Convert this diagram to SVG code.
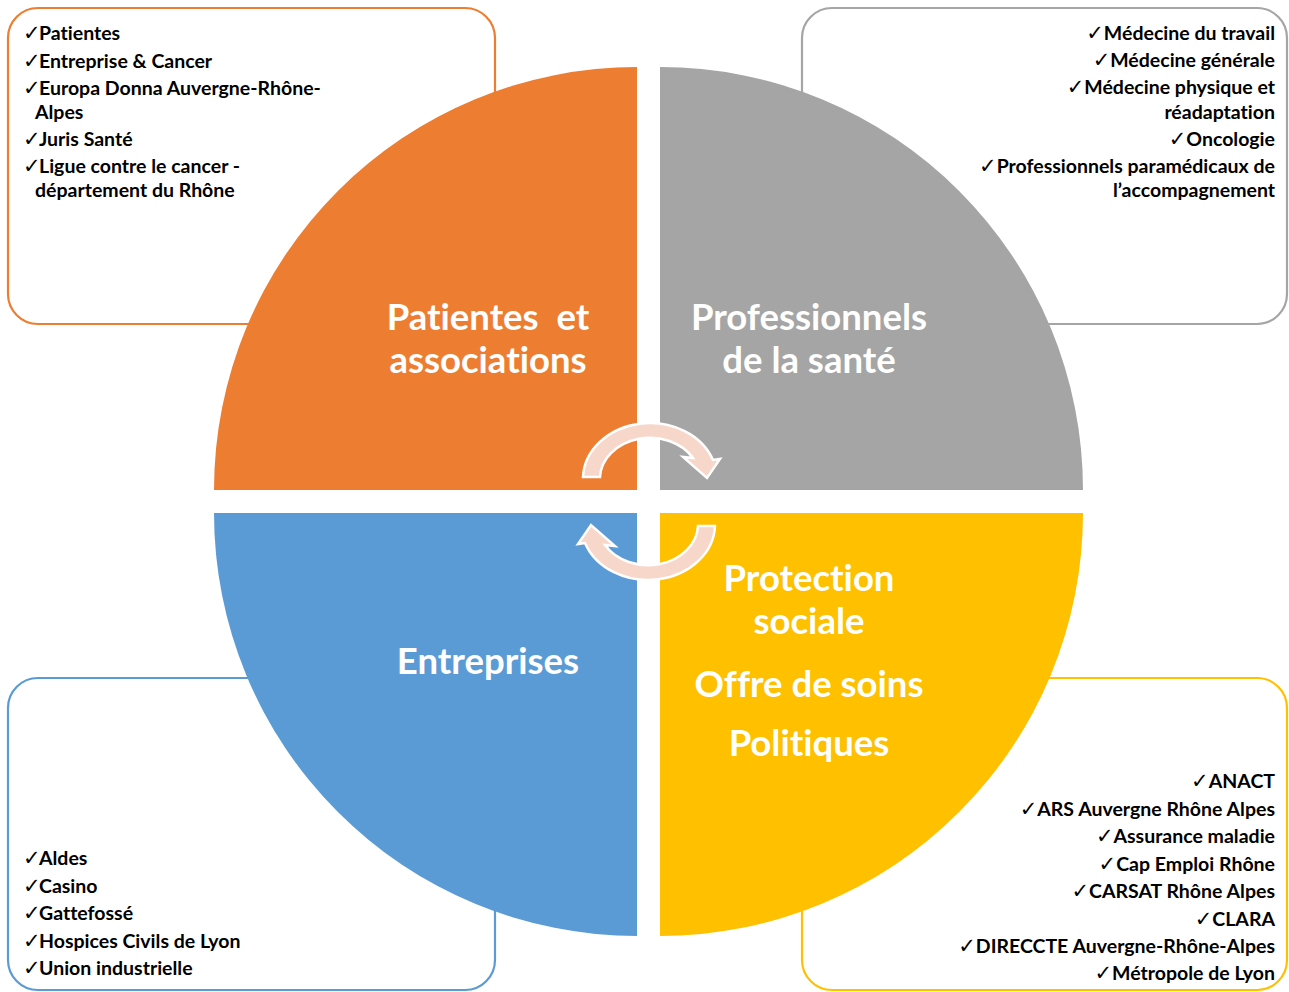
<svg xmlns="http://www.w3.org/2000/svg" width="1289" height="992" viewBox="0 0 1289 992">
<style>
.box{fill:#fff;stroke-width:2.2}
.lst{font-family:Lato,"Liberation Sans",sans-serif;font-weight:bold;font-size:19.5px;fill:#000;font-variant-ligatures:none}
.r{text-anchor:end}
.ck{font-family:"DejaVu Sans",sans-serif;font-weight:normal;font-size:21px}
.big{font-family:Lato,"Liberation Sans",sans-serif;font-weight:bold;font-size:36.5px;fill:#fff;text-anchor:middle;font-variant-ligatures:none}
.arr{fill:#F8D7CB;stroke:#fff;stroke-width:2.5;stroke-linejoin:miter}
</style>
<rect width="1289" height="992" fill="#fff"/>
<g id="box-patientes">
<rect class="box" x="8" y="8" width="487" height="316" rx="30" stroke="#ED7D31"/>
<text class="lst" y="40"><tspan class="ck" x="23">✓</tspan><tspan x="39">Patientes</tspan></text>
<text class="lst" y="68"><tspan class="ck" x="23">✓</tspan><tspan x="39">Entreprise &amp; Cancer</tspan></text>
<text class="lst" y="95"><tspan class="ck" x="23">✓</tspan><tspan x="39">Europa Donna Auvergne-Rhône-</tspan></text>
<text class="lst" x="35" y="119">Alpes</text>
<text class="lst" y="146"><tspan class="ck" x="23">✓</tspan><tspan x="39">Juris Santé</tspan></text>
<text class="lst" y="173"><tspan class="ck" x="23">✓</tspan><tspan x="39">Ligue contre le cancer -</tspan></text>
<text class="lst" x="35" y="197">département du Rhône</text>
</g>
<g id="box-professionnels">
<rect class="box" x="802" y="8" width="485" height="316" rx="30" stroke="#A5A5A5"/>
<text class="lst r" x="1275" y="40"><tspan class="ck">✓</tspan>Médecine du travail</text>
<text class="lst r" x="1275" y="67"><tspan class="ck">✓</tspan>Médecine générale</text>
<text class="lst r" x="1275" y="94"><tspan class="ck">✓</tspan>Médecine physique et</text>
<text class="lst r" x="1275" y="119">réadaptation</text>
<text class="lst r" x="1275" y="146"><tspan class="ck">✓</tspan>Oncologie</text>
<text class="lst r" x="1275" y="173"><tspan class="ck">✓</tspan>Professionnels paramédicaux de</text>
<text class="lst r" x="1275" y="197">l’accompagnement</text>
</g>
<g id="box-entreprises">
<rect class="box" x="8" y="678" width="487" height="312" rx="30" stroke="#5B9BD5"/>
<text class="lst" y="865"><tspan class="ck" x="23">✓</tspan><tspan x="39">Aldes</tspan></text>
<text class="lst" y="893"><tspan class="ck" x="23">✓</tspan><tspan x="39">Casino</tspan></text>
<text class="lst" y="920"><tspan class="ck" x="23">✓</tspan><tspan x="39">Gattefossé</tspan></text>
<text class="lst" y="948"><tspan class="ck" x="23">✓</tspan><tspan x="39">Hospices Civils de Lyon</tspan></text>
<text class="lst" y="975"><tspan class="ck" x="23">✓</tspan><tspan x="39">Union industrielle</tspan></text>
</g>
<g id="box-protection">
<rect class="box" x="802" y="678" width="485" height="312" rx="30" stroke="#FFC000"/>
<text class="lst r" x="1275" y="788"><tspan class="ck">✓</tspan>ANACT</text>
<text class="lst r" x="1275" y="816"><tspan class="ck">✓</tspan>ARS Auvergne Rhône Alpes</text>
<text class="lst r" x="1275" y="843"><tspan class="ck">✓</tspan>Assurance maladie</text>
<text class="lst r" x="1275" y="871"><tspan class="ck">✓</tspan>Cap Emploi Rhône</text>
<text class="lst r" x="1275" y="898"><tspan class="ck">✓</tspan>CARSAT Rhône Alpes</text>
<text class="lst r" x="1275" y="926"><tspan class="ck">✓</tspan>CLARA</text>
<text class="lst r" x="1275" y="953"><tspan class="ck">✓</tspan>DIRECCTE Auvergne-Rhône-Alpes</text>
<text class="lst r" x="1275" y="980"><tspan class="ck">✓</tspan>Métropole de Lyon</text>
</g>
<g id="q-patientes">
<path d="M637 490 L214 490 A423 423 0 0 1 637 67 Z" fill="#ED7D31"/>
<text class="big" x="488" y="330" style="white-space:pre">Patientes  et</text>
<text class="big" x="488" y="373">associations</text>
</g>
<g id="q-professionnels">
<path d="M660 490 L660 67 A423 423 0 0 1 1083 490 Z" fill="#A5A5A5"/>
<text class="big" x="809" y="330">Professionnels</text>
<text class="big" x="809" y="373">de la santé</text>
</g>
<g id="q-entreprises">
<path d="M637 513 L637 936 A423 423 0 0 1 214 513 Z" fill="#5B9BD5"/>
<text class="big" x="488" y="674">Entreprises</text>
</g>
<g id="q-protection">
<path d="M660 513 L1083 513 A423 423 0 0 1 660 936 Z" fill="#FFC000"/>
<text class="big" x="809" y="591">Protection</text>
<text class="big" x="809" y="634">sociale</text>
<text class="big" x="809" y="697">Offre de soins</text>
<text class="big" x="809" y="756">Politiques</text>
</g>
<g id="connectors">
<path id="arrow-top" class="arr" d="M583 477 A67 56 0 0 1 713 460 L720 459 L707 478 L683 457 L693 458 A50 41 0 0 0 600 477 Z"/>
<path id="arrow-bottom" class="arr" d="M583 477 A67 56 0 0 1 713 460 L720 459 L707 478 L683 457 L693 458 A50 41 0 0 0 600 477 Z" transform="rotate(180 649 501.5)"/>
</g>
</svg>
